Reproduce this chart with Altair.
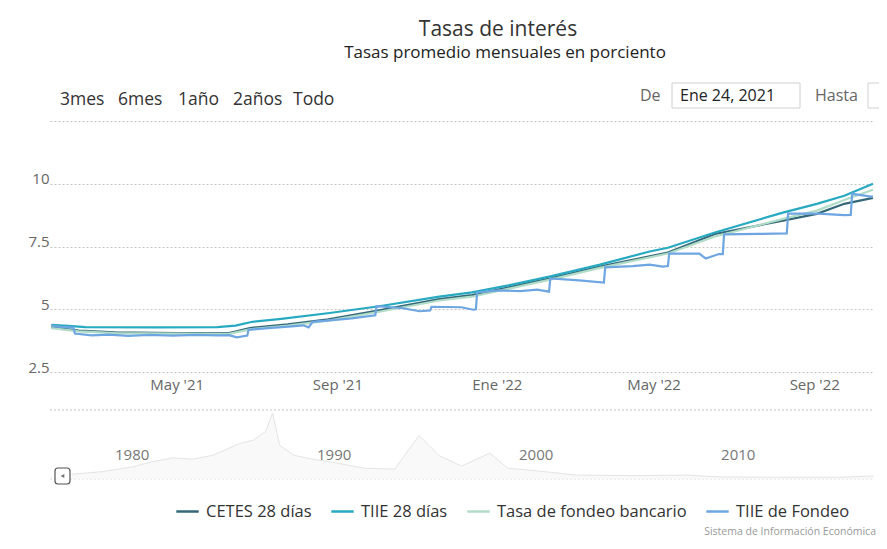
import altair as alt
import pandas as pd

TITLE = "Tasas de interés"
SUBTITLE = "Tasas promedio mensuales en porciento"
BUTTONS = ["3mes", "6mes", "1año", "2años", "Todo"]
FROM_LABEL = "De"
FROM_DATE = "Ene 24, 2021"
TO_LABEL = "Hasta"
CREDITS = "Sistema de Información Económica"

SERIES = ["CETES 28 días", "TIIE 28 días", "Tasa de fondeo bancario", "TIIE de Fondeo"]
COLORS = ["#35697a", "#27a9c1", "#b0dcc8", "#6ea6e2"]

CETES_DATES = ["2021-01-25", "2021-02-15", "2021-03-15", "2021-05-01", "2021-06-10", "2021-06-26",
               "2021-07-25", "2021-08-25", "2021-10-03", "2021-11-18", "2021-12-13", "2022-02-11",
               "2022-03-21", "2022-05-12", "2022-06-17", "2022-08-08", "2022-09-03", "2022-09-24",
               "2022-10-16"]
CETES_VALUES = [4.28, 4.15, 4.08, 4.05, 4.05, 4.25, 4.40, 4.60, 4.96, 5.40, 5.56, 6.23,
                6.70, 7.26, 8.00, 8.53, 8.80, 9.20, 9.44]

TIIE_DATES = ["2021-01-25", "2021-02-10", "2021-02-20", "2021-04-15", "2021-06-01", "2021-06-15",
              "2021-06-28", "2021-07-20", "2021-08-26", "2021-10-03", "2021-11-18", "2021-12-13",
              "2022-01-10", "2022-02-11", "2022-03-21", "2022-04-28", "2022-05-12", "2022-06-17",
              "2022-08-08", "2022-09-03", "2022-09-24", "2022-10-16"]
TIIE_VALUES = [4.38, 4.33, 4.29, 4.28, 4.29, 4.35, 4.50, 4.62, 4.85, 5.12, 5.50, 5.67,
               5.95, 6.31, 6.78, 7.30, 7.45, 8.06, 8.85, 9.20, 9.52, 10.00]

BANC_DATES = ["2021-01-25", "2021-02-15", "2021-03-15", "2021-05-01", "2021-06-10", "2021-06-26",
              "2021-07-25", "2021-08-25", "2021-10-03", "2021-11-18", "2021-12-13", "2022-02-11",
              "2022-03-21", "2022-05-12", "2022-06-17", "2022-08-08", "2022-09-03", "2022-09-24",
              "2022-10-16"]
BANC_VALUES = [4.25, 4.12, 4.05, 4.03, 4.02, 4.20, 4.35, 4.55, 4.90, 5.35, 5.50, 6.18,
               6.65, 7.22, 7.90, 8.60, 8.93, 9.35, 9.76]

FONDEO_DATES = ["2021-01-25", "2021-02-01", "2021-02-11", "2021-02-12", "2021-02-25", "2021-03-10",
                "2021-03-25", "2021-04-10", "2021-04-28", "2021-05-15", "2021-06-01", "2021-06-10",
                "2021-06-16", "2021-06-24", "2021-06-25", "2021-07-10", "2021-07-28", "2021-08-06",
                "2021-08-10", "2021-08-13", "2021-08-26", "2021-09-12", "2021-09-30", "2021-10-01",
                "2021-10-20", "2021-11-03", "2021-11-11", "2021-11-12", "2021-12-05", "2021-12-14",
                "2021-12-16", "2021-12-17", "2022-01-03", "2022-01-19", "2022-02-01", "2022-02-10",
                "2022-02-11", "2022-03-05", "2022-03-24", "2022-03-25", "2022-04-15", "2022-04-28",
                "2022-05-08", "2022-05-12", "2022-05-13", "2022-06-05", "2022-06-10", "2022-06-20",
                "2022-06-23", "2022-06-24", "2022-07-20", "2022-08-11", "2022-08-12", "2022-09-04",
                "2022-09-24", "2022-09-29", "2022-09-30", "2022-10-16"]
FONDEO_VALUES = [4.35, 4.30, 4.27, 4.03, 3.96, 3.99, 3.94, 3.98, 3.95, 3.98, 3.96, 3.97,
                 3.88, 3.95, 4.18, 4.25, 4.32, 4.36, 4.28, 4.50, 4.56, 4.64, 4.76, 5.12,
                 5.05, 4.92, 4.95, 5.10, 5.08, 4.98, 5.00, 5.67, 5.75, 5.72, 5.78, 5.70,
                 6.23, 6.15, 6.06, 6.67, 6.72, 6.78, 6.70, 6.72, 7.22, 7.22, 7.02, 7.20,
                 7.20, 7.98, 8.00, 8.02, 8.81, 8.81, 8.75, 8.76, 9.60, 9.48]

MONTHS = ["Ene", "Feb", "Mar", "Abr", "May", "Jun", "Jul", "Ago", "Sep", "Oct", "Nov", "Dic"]
X_TICKS = [(2021, 5), (2021, 9), (2022, 1), (2022, 5), (2022, 9)]
X_START = (2021, 1, 24)
X_END = (2022, 10, 16)
Y_TICKS = [2.5, 5, 7.5, 10, 12.5]
Y_DOMAIN = [2.5, 12.5]

# navigator (full history, faint)
NAV_YEARS = [1978.0, 1979.5, 1981.0, 1982.0, 1983.0, 1984.0, 1985.0, 1986.3, 1987.0, 1987.6,
             1987.95, 1988.3, 1989.0, 1989.8, 1991.0, 1992.5, 1994.0, 1995.2, 1996.2, 1997.3,
             1998.7, 1999.6, 2001.0, 2003.0, 2006.0, 2008.5, 2010.0, 2013.0, 2016.0, 2017.7]
NAV_VALUES = [11, 17, 28, 40, 49, 46, 55, 82, 90, 110,
              153, 78, 55, 47, 38, 25, 23, 101, 54, 30,
              60, 25, 19, 9, 8, 9, 5, 4, 4, 7]
NAV_LABELS = [1980, 1990, 2000, 2010]
NAV_DOMAIN = [1976.93, 2017.67]
NAV_Y_DOMAIN = [0, 160]

FONT = "Open Sans"
W, H = 823, 251

rows = []
for name, ds, vs in [(SERIES[0], CETES_DATES, CETES_VALUES), (SERIES[1], TIIE_DATES, TIIE_VALUES),
                     (SERIES[2], BANC_DATES, BANC_VALUES), (SERIES[3], FONDEO_DATES, FONDEO_VALUES)]:
    for d, v in zip(ds, vs):
        rows.append({"serie": name, "fecha": d, "valor": v})
df = pd.DataFrame(rows)

months_js = "[" + ",".join("'%s'" % m for m in MONTHS) + "]"
x_label_expr = months_js + "[utcmonth(datum.value)] + \" '\" + utcFormat(datum.value, '%y')"

lines = alt.Chart(df).mark_line(strokeWidth=2.2).encode(
    x=alt.X("fecha:T",
            scale=alt.Scale(type="utc",
                            domain=[alt.DateTime(year=X_START[0], month=X_START[1], date=X_START[2], utc=True),
                                    alt.DateTime(year=X_END[0], month=X_END[1], date=X_END[2], utc=True)]),
            axis=alt.Axis(values=[alt.DateTime(year=y, month=m, date=1, utc=True) for y, m in X_TICKS],
                          labelExpr=x_label_expr, tickSize=0, domain=False, grid=False,
                          labelFontSize=15, labelFont=FONT, labelColor="#666", labelPadding=5,
                          title=None, labelOverlap=False)),
    y=alt.Y("valor:Q",
            scale=alt.Scale(domain=Y_DOMAIN, nice=False, zero=False),
            axis=alt.Axis(values=Y_TICKS, labelExpr="datum.value == 12.5 ? '' : toString(datum.value)",
                          tickSize=0, domain=False, labelPadding=1, labelFontSize=15, labelFont=FONT,
                          labelColor="#666", gridColor="#c4c4c4", gridDash=[2, 2], gridWidth=1,
                          labelBaseline="alphabetic", title=None)),
    color=alt.Color("serie:N", scale=alt.Scale(domain=SERIES, range=COLORS),
                    legend=alt.Legend(orient="none", legendX=125, legendY=378, direction="horizontal",
                                      title=None, symbolType="stroke", symbolStrokeWidth=2.5,
                                      symbolSize=500, labelFontSize=16.5, labelFont=FONT,
                                      labelColor="#333", columnPadding=14, labelOffset=6,
                                      labelLimit=400)),
)

one = pd.DataFrame({"a": [0]})


def txt(s, x, y, size, color, align="left"):
    return alt.Chart(pd.DataFrame({"t": [s]})).mark_text(
        align=align, baseline="middle", fontSize=size, color=color, font=FONT
    ).encode(x=alt.value(x), y=alt.value(y), text="t:N")


def box(x1, x2, y1, y2, stroke="#d0d0d0", fill="white", radius=0, width=1):
    return alt.Chart(one).mark_rect(fill=fill, stroke=stroke, strokeWidth=width, cornerRadius=radius).encode(
        x=alt.value(x1), x2=alt.value(x2), y=alt.value(y1), y2=alt.value(y2))


def hline(y, color="#c4c4c4", dash=(2, 2)):
    return alt.Chart(one).mark_rule(color=color, strokeDash=list(dash), strokeWidth=1).encode(
        x=alt.value(0), x2=alt.value(W), y=alt.value(y))


deco = [
    txt(TITLE, 448, -91, 21, "#333", "center"),
    txt(SUBTITLE, 455, -68, 17, "#222", "center"),
]
for label, bx in zip(BUTTONS, [10, 68, 128, 183, 243]):
    deco.append(txt(label, bx, -21, 17.5, "#333"))
deco += [
    txt(FROM_LABEL, 590, -25, 16, "#666"),
    box(622, 750, -38, -13),
    txt(FROM_DATE, 630, -25, 16, "#222"),
    txt(TO_LABEL, 765, -25, 16, "#666"),
    box(818, 860, -38, -13),
    hline(289),
    hline(358, "#dddddd"),
    box(5, 20, 347, 363, stroke="#555", radius=3, width=1.2),
    alt.Chart(one).mark_point(shape="triangle-left", filled=True, size=18, color="#333").encode(
        x=alt.value(12.5), y=alt.value(355)),
    txt(CREDITS, 826, 411, 10.5, "#999", "right"),
]

main = alt.layer(lines, *deco)

nav_df = pd.DataFrame({"anio": NAV_YEARS, "nivel": NAV_VALUES})
nav_x = alt.Scale(domain=NAV_DOMAIN, range=[0, W], nice=False, zero=False)
nav_area = alt.Chart(nav_df).mark_area(color="#f7f7f7", line={"color": "#e4e4e4", "strokeWidth": 1}).encode(
    x=alt.X("anio:Q", scale=nav_x, axis=None),
    y=alt.Y("nivel:Q", scale=alt.Scale(domain=NAV_Y_DOMAIN, range=[358, 289], nice=False), axis=None),
)
nav_labels = alt.Chart(pd.DataFrame({"anio": NAV_LABELS})).mark_text(
    align="left", baseline="middle", dx=3, fontSize=15, font=FONT, color="#777"
).encode(x=alt.X("anio:Q", scale=nav_x, axis=None), y=alt.value(334), text="anio:N")
nav = alt.layer(nav_area, nav_labels)

chart = alt.layer(main, nav).resolve_scale(x="independent", y="independent").properties(
    width=W, height=H,
    autosize=alt.AutoSizeParams(type="none"),
    padding={"left": 42, "top": 113, "right": 6, "bottom": 166},
    background="white",
).configure_view(stroke=None)

chart.save("out.html", embed_options={"renderer": "svg", "actions": False})
